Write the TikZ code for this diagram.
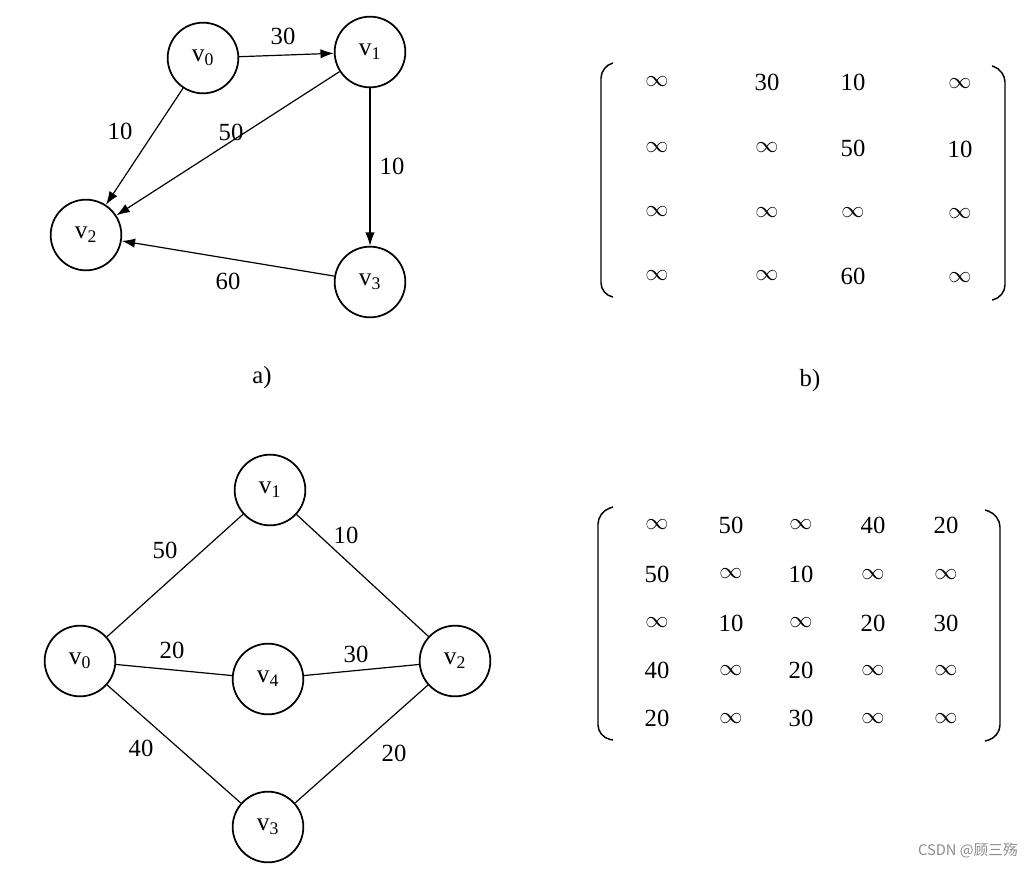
\documentclass[tikz,border=0pt]{standalone}
\usepackage{fontspec}
\setmainfont{Liberation Serif}
\newfontfamily\cjk{Noto Sans CJK SC}
\usetikzlibrary{arrows.meta}
\pgfdeclarelayer{edgelayer}
\pgfdeclarelayer{nodelayer}
\pgfsetlayers{edgelayer,nodelayer,main}
\tikzset{font=\fontsize{18.5}{20}\selectfont}
\newcommand{\infy}{$\infty$}
\tikzstyle{none}=[inner sep=0pt]
\tikzstyle{vert}=[circle,draw,fill=white,line width=1.3pt,minimum size=53pt,inner sep=0pt,font=\fontsize{19}{20}\selectfont]
\tikzstyle{arc}=[line width=0.9pt,-{Latex[length=10pt,width=7pt]}]
\tikzstyle{edge}=[line width=0.9pt]
\tikzstyle{brack}=[line width=1.1pt,rounded corners=9pt]

\begin{document}
\begin{tikzpicture}[x=0.75pt,y=-0.75pt]
	\useasboundingbox (0,0) rectangle (1034,868);
	\begin{pgfonlayer}{nodelayer}
		% directed graph
		\node [style=vert] (a0) at (203, 58) {v\textsubscript{0}};
		\node [style=vert] (a1) at (370, 52) {v\textsubscript{1}};
		\node [style=vert] (a2) at (86, 235) {v\textsubscript{2}};
		\node [style=vert] (a3) at (370, 282) {v\textsubscript{3}};
		\node [style=none] (l0) at (283, 36) {30};
		\node [style=none] (l1) at (120, 131) {10};
		\node [style=none] (l2) at (231, 132) {50};
		\node [style=none] (l3) at (392, 166) {10};
		\node [style=none] (l4) at (228, 281) {60};
		\node [style=none] (ca) at (262, 378) {a)};
		% matrix b
		\node [style=none] (m00) at (657, 82) {\infy};
		\node [style=none] (m01) at (767, 82) {30};
		\node [style=none] (m02) at (853, 82) {10};
		\node [style=none] (m03) at (960, 84) {\infy};
		\node [style=none] (m10) at (657, 148) {\infy};
		\node [style=none] (m11) at (767, 148) {\infy};
		\node [style=none] (m12) at (853, 148) {50};
		\node [style=none] (m13) at (960, 149) {10};
		\node [style=none] (m20) at (657, 212) {\infy};
		\node [style=none] (m21) at (767, 213) {\infy};
		\node [style=none] (m22) at (853, 213) {\infy};
		\node [style=none] (m23) at (960, 214) {\infy};
		\node [style=none] (m30) at (657, 276) {\infy};
		\node [style=none] (m31) at (767, 276) {\infy};
		\node [style=none] (m32) at (853, 276) {60};
		\node [style=none] (m33) at (960, 278) {\infy};
		\node [style=none] (cb) at (810, 381) {b)};
		% undirected graph
		\node [style=vert] (b0) at (80, 661) {v\textsubscript{0}};
		\node [style=vert] (b1) at (270, 490) {v\textsubscript{1}};
		\node [style=vert] (b2) at (455, 661) {v\textsubscript{2}};
		\node [style=vert] (b3) at (268, 827) {v\textsubscript{3}};
		\node [style=vert] (b4) at (268, 679) {v\textsubscript{4}};
		\node [style=none] (k0) at (165, 550) {50};
		\node [style=none] (k1) at (346, 535) {10};
		\node [style=none] (k2) at (172, 650) {20};
		\node [style=none] (k3) at (356, 654) {30};
		\node [style=none] (k4) at (141, 748) {40};
		\node [style=none] (k5) at (394, 753) {20};
		% matrix of the undirected graph
		\node [style=none] (n00) at (657, 525) {\infy};
		\node [style=none] (n01) at (731, 525) {50};
		\node [style=none] (n02) at (801, 525) {\infy};
		\node [style=none] (n03) at (873, 525) {40};
		\node [style=none] (n04) at (946, 525) {20};
		\node [style=none] (n10) at (657, 574) {50};
		\node [style=none] (n11) at (731, 574) {\infy};
		\node [style=none] (n12) at (801, 574) {10};
		\node [style=none] (n13) at (873, 575) {\infy};
		\node [style=none] (n14) at (946, 575) {\infy};
		\node [style=none] (n20) at (657, 623) {\infy};
		\node [style=none] (n21) at (731, 623) {10};
		\node [style=none] (n22) at (801, 623) {\infy};
		\node [style=none] (n23) at (873, 623) {20};
		\node [style=none] (n24) at (946, 623) {30};
		\node [style=none] (n30) at (657, 670) {40};
		\node [style=none] (n31) at (731, 671) {\infy};
		\node [style=none] (n32) at (801, 670) {20};
		\node [style=none] (n33) at (873, 671) {\infy};
		\node [style=none] (n34) at (946, 671) {\infy};
		\node [style=none] (n40) at (657, 718) {20};
		\node [style=none] (n41) at (731, 719) {\infy};
		\node [style=none] (n42) at (801, 718) {30};
		\node [style=none] (n43) at (873, 719) {\infy};
		\node [style=none] (n44) at (946, 719) {\infy};
		% watermark
		\node [style=none, anchor=east, text=black!45, font=\cjk\fontsize{11}{13}\selectfont] (wm) at (1018, 851) {CSDN @顾三殇};
	\end{pgfonlayer}
	\begin{pgfonlayer}{edgelayer}
		\draw [style=arc] (a0) to (a1);
		\draw [style=arc] (a0) to (a2);
		\draw [style=arc] (a1) to (a2);
		\draw [style=arc] (a1) to (a3);
		\draw [style=arc] (a3) to (a2);
		\draw [style=edge] (b0) to (b1);
		\draw [style=edge] (b1) to (b2);
		\draw [style=edge] (b0) to (b4);
		\draw [style=edge] (b4) to (b2);
		\draw [style=edge] (b0) to (b3);
		\draw [style=edge] (b3) to (b2);
		% brackets
		\draw [style=brack] (613, 63) -- (601, 66) -- (601, 295) -- (613, 297);
		\draw [style=brack] (992, 66) -- (1005, 70) -- (1005, 297) -- (992, 300);
		\draw [style=brack] (613, 507) -- (598, 512) -- (598, 737) -- (613, 740);
		\draw [style=brack] (985, 510) -- (1000, 515) -- (1000, 737) -- (985, 741);
	\end{pgfonlayer}
\end{tikzpicture}
\end{document}
